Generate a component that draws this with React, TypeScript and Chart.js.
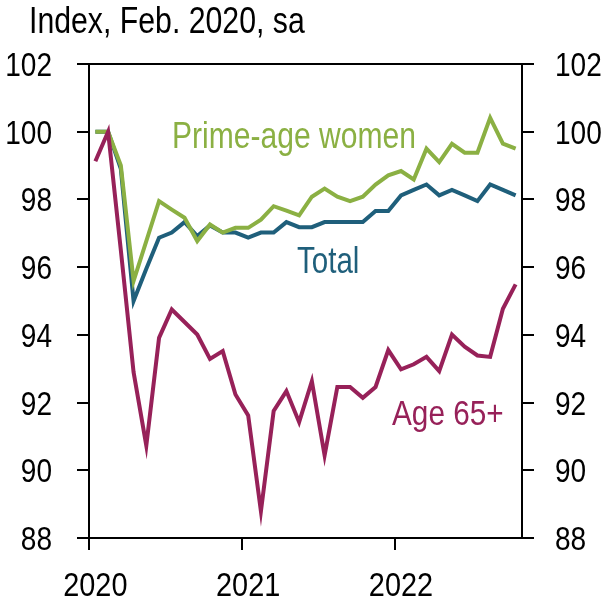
import React, { useEffect, useRef } from "react";
import { Chart, registerables } from "chart.js";

Chart.register(...registerables);

const FONT = '"Liberation Sans", Arial, sans-serif';

// Monthly observations, Jan 2020 .. Oct 2022 (index, Feb. 2020 = 100)
const months: string[] = [
  "2020-01", "2020-02", "2020-03", "2020-04", "2020-05", "2020-06", "2020-07", "2020-08", "2020-09", "2020-10", "2020-11", "2020-12",
  "2021-01", "2021-02", "2021-03", "2021-04", "2021-05", "2021-06", "2021-07", "2021-08", "2021-09", "2021-10", "2021-11", "2021-12",
  "2022-01", "2022-02", "2022-03", "2022-04", "2022-05", "2022-06", "2022-07", "2022-08", "2022-09", "2022-10",
];

const total: number[] = [
  100.0, 100.0, 98.9, 95.0, 95.95, 96.87, 97.02, 97.33, 96.92, 97.23, 97.02, 97.02,
  96.87, 97.02, 97.02, 97.33, 97.18, 97.18, 97.33, 97.33, 97.33, 97.33, 97.66, 97.66,
  98.12, 98.28, 98.44, 98.12, 98.28, 98.12, 97.95, 98.44, 98.28, 98.12,
];

const primeAgeWomen: number[] = [
  100.0, 100.0, 99.0, 95.59, 96.77, 97.95, 97.7, 97.46, 96.77, 97.26, 97.02, 97.16,
  97.16, 97.4, 97.8, 97.67, 97.53, 98.08, 98.32, 98.08, 97.95, 98.08, 98.44, 98.71,
  98.84, 98.59, 99.5, 99.1, 99.64, 99.38, 99.38, 100.41, 99.65, 99.5,
];

const age65: number[] = [
  99.13, 100.0, 96.5, 92.9, 90.73, 93.91, 94.75, 94.38, 94.01, 93.29, 93.52, 92.24,
  91.62, 88.79, 91.75, 92.34, 91.42, 92.63, 90.44, 92.46, 92.46, 92.14, 92.46, 93.55,
  92.98, 93.13, 93.35, 92.93, 94.01, 93.65, 93.39, 93.35, 94.77, 95.49,
];

const yearTicks: number[] = [2020, 2021, 2022];
const yTicks: number[] = [88, 90, 92, 94, 96, 98, 100, 102];

const GREEN = "#8bb043";
const BLUE = "#1f5f7b";
const MAROON = "#972159";

const toPoints = (vals: number[]) => vals.map((v, i) => ({ x: i + 0.5, y: v }));

function narrowText(
  ctx: CanvasRenderingContext2D,
  text: string,
  x: number,
  y: number,
  size: number,
  sx: number,
  color: string,
  align: CanvasTextAlign = "left"
) {
  ctx.save();
  ctx.translate(x, y);
  ctx.scale(sx, 1);
  ctx.font = `${size}px ${FONT}`;
  ctx.fillStyle = color;
  ctx.textAlign = align;
  ctx.textBaseline = "alphabetic";
  ctx.fillText(text, 0, 0);
  ctx.restore();
}

const textPlugin = {
  id: "texts",
  afterDraw(chart: any) {
    const ctx = chart.ctx as CanvasRenderingContext2D;
    const yS = chart.scales.y;
    const xS = chart.scales.x;
    // y tick labels, both sides
    for (const v of yTicks) {
      const py = yS.getPixelForValue(v) + 12;
      narrowText(ctx, String(v), 52, py, 33, 0.85, "#000", "right");
      narrowText(ctx, String(v), 555, py, 33, 0.85, "#000", "left");
    }
    // year labels, centred on the January of each year
    yearTicks.forEach((yr, k) => {
      const px = xS.getPixelForValue(k * 12 + 0.5);
      narrowText(ctx, String(yr), px, 596, 34, 0.85, "#000", "center");
    });
    narrowText(ctx, "Index, Feb. 2020, sa", 29, 33, 36, 0.84, "#000");
    narrowText(ctx, "Prime-age women", 172, 148, 36, 0.835, GREEN);
    narrowText(ctx, "Total", 297, 273, 36, 0.82, BLUE);
    narrowText(ctx, "Age 65+", 392, 425, 35, 0.85, MAROON);
  },
};

export default function App() {
  const ref = useRef<HTMLCanvasElement | null>(null);

  useEffect(() => {
    if (!ref.current) return;
    const yCommon = (pos: "left" | "right", width: number, onArea: boolean) => ({
      type: "linear" as const,
      position: pos,
      min: 88,
      max: 102,
      afterBuildTicks: (s: any) => {
        s.ticks = yTicks.map((v) => ({ value: v }));
      },
      afterFit: (s: any) => {
        s.width = width;
      },
      border: { display: true, color: "#000", width: 2 },
      grid: {
        drawOnChartArea: onArea,
        color: (c: any) => (c.tick && c.tick.value === 102 ? "#000" : "rgba(0,0,0,0)"),
        lineWidth: 2,
        tickColor: "#000",
        tickWidth: 2,
        tickLength: 12,
      },
      ticks: { display: false },
    });

    const chart = new Chart(ref.current, {
      type: "line",
      data: {
        datasets: [
          { label: "Age 65+", data: toPoints(age65), borderColor: MAROON, borderWidth: 4, pointRadius: 0, tension: 0, yAxisID: "y" },
          { label: "Prime-age women", data: toPoints(primeAgeWomen), borderColor: GREEN, borderWidth: 4, pointRadius: 0, tension: 0, yAxisID: "y" },
          { label: "Total", data: toPoints(total), borderColor: BLUE, borderWidth: 4, pointRadius: 0, tension: 0, yAxisID: "y" },
        ],
      },
      options: {
        responsive: false,
        animation: false,
        events: [],
        layout: { padding: { top: 64, left: 0, right: 0, bottom: 0 } },
        plugins: { legend: { display: false }, tooltip: { enabled: false }, title: { display: false } },
        scales: {
          x: {
            type: "linear",
            min: 0,
            max: months.length,
            afterBuildTicks: (s: any) => {
              s.ticks = yearTicks.map((y, k) => ({ value: k * 12 }));
            },
            afterFit: (s: any) => {
              s.height = 63;
            },
            border: { display: true, color: "#000", width: 2 },
            grid: {
              drawOnChartArea: false,
              color: "#000",
              lineWidth: 2,
              tickLength: 12,
              tickWidth: 2,
            },
            ticks: { display: false },
          },
          y: yCommon("left", 89, true),
          y2: yCommon("right", 82, false),
        },
      },
      plugins: [textPlugin],
    } as any);
    return () => chart.destroy();
  }, []);

  return (
    <div style={{ position: "absolute", left: 0, top: 0, width: 604, height: 601, background: "#fff" }}>
      <canvas ref={ref} width={604} height={601} style={{ display: "block" }} />
    </div>
  );
}
